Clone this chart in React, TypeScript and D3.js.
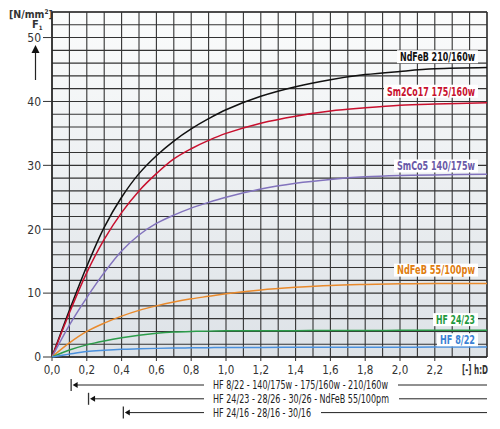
import React from "react";
import * as d3 from "d3";

const xs = [0, 0.1, 0.2, 0.3, 0.4, 0.5, 0.6, 0.7, 0.8, 0.9, 1.0, 1.2, 1.4, 1.6, 1.8, 2.0, 2.2, 2.5];
const ndfeb210 = [0, 7.3, 14.2, 20.3, 25.0, 28.7, 31.5, 33.8, 35.7, 37.3, 38.7, 40.8, 42.3, 43.4, 44.2, 44.7, 45.1, 45.3];
const sm2co17 = [0, 6.9, 13.2, 18.4, 22.6, 26.0, 28.7, 31.0, 32.6, 33.9, 35.0, 36.6, 37.7, 38.5, 39.0, 39.4, 39.6, 39.8];
const smco5 = [0, 5.0, 9.3, 13.2, 16.6, 19.1, 20.9, 22.2, 23.3, 24.2, 25.0, 26.3, 27.2, 27.8, 28.2, 28.4, 28.5, 28.6];
const ndfeb55 = [0, 2.2, 4.0, 5.3, 6.4, 7.3, 8.0, 8.6, 9.1, 9.5, 9.9, 10.5, 10.9, 11.2, 11.35, 11.45, 11.5, 11.5];
const hf2423 = [0, 1.1, 1.9, 2.5, 3.0, 3.4, 3.7, 3.9, 4.0, 4.05, 4.1, 4.1, 4.12, 4.15, 4.15, 4.18, 4.2, 4.2];
const hf822 = [0, 0.45, 0.85, 1.05, 1.2, 1.28, 1.35, 1.4, 1.43, 1.46, 1.48, 1.5, 1.51, 1.52, 1.53, 1.54, 1.55, 1.55];

const seriesNames = ["NdFeB 210/160w", "Sm2Co17 175/160w", "SmCo5 140/175w", "NdFeB 55/100pw", "HF 24/23", "HF 8/22"];
const seriesValues = [ndfeb210, sm2co17, smco5, ndfeb55, hf2423, hf822];
const lineColors = ["#111111", "#c8102e", "#8273bd", "#e98a2c", "#2c9c4a", "#4a90dc"];
const textColors = ["#111111", "#c8102e", "#6a5aa8", "#e07d10", "#1f9a3e", "#3a82d4"];
const labelY = [47.0, 41.6, 29.9, 13.6, 5.85, 2.7];
const labelTextW = [75, 88, 78, 78, 39, 35];

const xTicks = [0, 0.2, 0.4, 0.6, 0.8, 1.0, 1.2, 1.4, 1.6, 1.8, 2.0, 2.2];
const yTicks = [0, 10, 20, 30, 40, 50];

const rangeStarts = [0.11, 0.21, 0.41];
const rangeTexts = [
  "HF 8/22 - 140/175w - 175/160w - 210/160w",
  "HF 24/23 - 28/26 - 30/26 - NdFeB 55/100pm",
  "HF 24/16 - 28/16 - 30/16",
];
const rangeTextW = [175, 176, 98];

const FONT = "'Liberation Sans Narrow', 'DejaVu Sans Condensed', 'Arial Narrow', sans-serif";

export default function App() {
  const W = 500, H = 429;
  const x = d3.scaleLinear().domain([0, 2.5]).range([52, 487]);
  const y = d3.scaleLinear().domain([0, 54]).range([357, 12]);
  const vGrid = d3.range(0, 26).map((i) => i / 10);
  const hGrid = d3.range(0, 28).map((i) => i * 2);
  const line = d3
    .line<[number, number]>()
    .x((d) => x(d[0]))
    .y((d) => y(d[1]))
    .curve(d3.curveCatmullRom.alpha(0.5));
  const fmt = (v: number) => v.toFixed(1).replace(".", ",");
  const textStart = 213;

  return (
    <svg width={W} height={H} style={{ position: "absolute", left: 0, top: 0, display: "block", background: "#fff" }}>
      <defs>
        <linearGradient id="bg" x1="0" y1="0" x2="0" y2="1">
          <stop offset="0" stopColor="#fbfcfc" />
          <stop offset="1" stopColor="#dde2e7" />
        </linearGradient>
      </defs>
      <rect x={x(0)} y={y(54)} width={x(2.5) - x(0)} height={y(0) - y(54)} fill="url(#bg)" />
      {vGrid.map((v) => (
        <line key={"v" + v} x1={x(v)} x2={x(v)} y1={y(0)} y2={y(54)} stroke="#333" strokeWidth={1.1} />
      ))}
      <line x1={x(2.5)} x2={x(2.5)} y1={y(0)} y2={y(54)} stroke="#333" strokeWidth={1.3} />
      {hGrid.map((v) => (
        <line key={"h" + v} x1={x(0)} x2={x(2.5)} y1={y(v)} y2={y(v)} stroke="#333" strokeWidth={1.1} />
      ))}
      <line x1={x(0)} x2={x(2.5)} y1={y(54)} y2={y(54)} stroke="#333" strokeWidth={1.3} />
      <line x1={x(0)} x2={x(0)} y1={y(0)} y2={y(54)} stroke="#222" strokeWidth={1.5} />
      <line x1={x(0)} x2={x(2.5)} y1={y(0)} y2={y(0)} stroke="#222" strokeWidth={1.5} />

      {seriesValues.map((vals, i) => (
        <path
          key={"s" + i}
          d={line(xs.map((xv, j) => [xv, vals[j]]) as [number, number][]) || ""}
          fill="none"
          stroke={lineColors[i]}
          strokeWidth={1.5}
        />
      ))}

      {seriesNames.map((name, i) => {
        const cy = y(labelY[i]);
        const w = labelTextW[i] + 6;
        return (
          <g key={"l" + i}>
            <rect x={478 - w} y={cy - 6.5} width={w} height={13} fill="#fff" />
            <text
              x={475}
              y={cy + 4.3}
              textAnchor="end"
              fontFamily={FONT}
              fontWeight="bold"
              fontSize={12}
              fill={textColors[i]}
              textLength={labelTextW[i]}
              lengthAdjust="spacingAndGlyphs"
            >
              {name}
            </text>
          </g>
        );
      })}

      {yTicks.map((t) => (
        <g key={"yt" + t}>
          <line x1={43} x2={x(0)} y1={y(t)} y2={y(t)} stroke="#333" strokeWidth={1} />
          <text x={41} y={y(t) + 4.3} textAnchor="end" fontFamily={FONT} fontSize={12} fill="#333">
            {t}
          </text>
        </g>
      ))}
      <text x={9} y={17.5} fontFamily={FONT} fontWeight="bold" fontSize={10.5} fill="#333">
        [N/mm<tspan dy={-4} fontSize={6.5}>2</tspan><tspan dy={4}>]</tspan>
      </text>
      <text x={32} y={28} fontFamily={FONT} fontWeight="bold" fontSize={11} fill="#333">
        F<tspan dy={1.5} fontSize={6}>1</tspan>
      </text>
      <line x1={35.5} x2={35.5} y1={80} y2={52} stroke="#222" strokeWidth={1.2} />
      <path d="M35.5,45 L31.5,53 L39.5,53 Z" fill="#111" />

      {xTicks.map((t) => (
        <g key={"xt" + t}>
          <line x1={x(t)} x2={x(t)} y1={y(0)} y2={y(0) + 4} stroke="#333" strokeWidth={1} />
          <text x={x(t)} y={374} textAnchor="middle" fontFamily={FONT} fontSize={11.5} fill="#333">
            {fmt(t)}
          </text>
        </g>
      ))}
      <line x1={x(2.4)} x2={x(2.4)} y1={y(0)} y2={y(0) + 4} stroke="#333" strokeWidth={1} />
      <text x={462} y={374} fontFamily={FONT} fontWeight="bold" fontSize={12} fill="#333" textLength={26} lengthAdjust="spacingAndGlyphs">
        [-] h:D
      </text>

      {rangeStarts.map((s, i) => {
        const cy = 385 + i * 13.8;
        const bx = x(s);
        const tEnd = textStart + rangeTextW[i];
        return (
          <g key={"r" + i}>
            <line x1={bx} x2={bx} y1={cy - 6} y2={cy + 6} stroke="#333" strokeWidth={1.3} />
            <line x1={bx + 5} x2={204} y1={cy} y2={cy} stroke="#222" strokeWidth={1} />
            <path d={`M${bx + 1.5},${cy} L${bx + 6.5},${cy - 3} L${bx + 6.5},${cy + 3} Z`} fill="#111" />
            <text
              x={textStart}
              y={cy + 4.3}
              fontFamily={FONT}
              fontSize={12.5}
              fill="#222"
              textLength={rangeTextW[i]}
              lengthAdjust="spacingAndGlyphs"
            >
              {rangeTexts[i]}
            </text>
            <line x1={tEnd + 10} x2={x(2.5)} y1={cy} y2={cy} stroke="#222" strokeWidth={1} />
          </g>
        );
      })}
    </svg>
  );
}
